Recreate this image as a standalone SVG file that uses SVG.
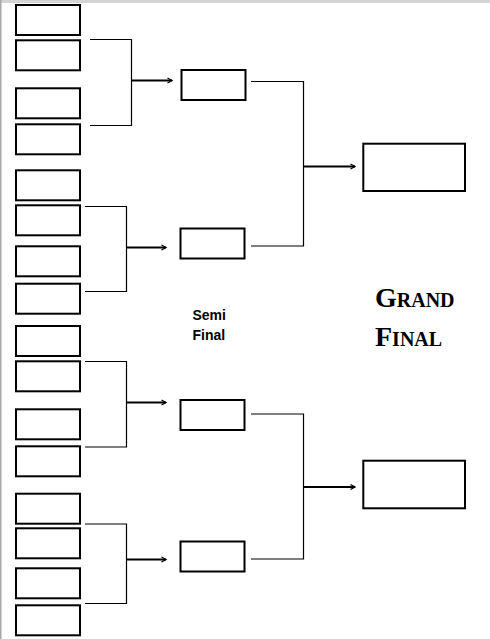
<svg xmlns="http://www.w3.org/2000/svg" width="490" height="639" viewBox="0 0 490 639">
<defs>
<marker id="ah" markerUnits="userSpaceOnUse" markerWidth="8" markerHeight="8" refX="6" refY="4" orient="auto">
<path d="M1.5,1.5 L6,4 L1.5,6.5" fill="none" stroke="#000" stroke-width="1.3"/>
</marker>
<style>
.box{fill:#fff;stroke:#000;stroke-width:2}
.br{fill:none;stroke:#000;stroke-width:1.2}
.ar{fill:none;stroke:#000;stroke-width:1.8;marker-end:url(#ah)}
.semi{font-family:"Liberation Sans",Arial,sans-serif;font-weight:bold;font-size:14px;fill:#000}
.gf{font-family:"Liberation Serif","Times New Roman",serif;font-weight:bold;fill:#000}
</style>
</defs>
<rect x="0" y="0" width="490" height="639" fill="#fff"/>
<rect x="0" y="0" width="490" height="3" fill="#d4d4d4"/>
<rect x="0" y="0" width="1.5" height="639" fill="#a8a8a8"/>

<g id="r1">
<rect id="n1" class="box" x="16" y="5" width="64" height="30"/>
<rect id="n2" class="box" x="16" y="40.3" width="64" height="30"/>
<rect id="n3" class="box" x="16" y="88.3" width="64" height="30"/>
<rect id="n4" class="box" x="16" y="124.3" width="64" height="30"/>
<rect id="n5" class="box" x="16" y="170.3" width="64" height="30"/>
<rect id="n6" class="box" x="16" y="205.3" width="64" height="30"/>
<rect id="n7" class="box" x="16" y="246.3" width="64" height="30"/>
<rect id="n8" class="box" x="16" y="283.7" width="64" height="30"/>
<rect id="n9" class="box" x="16" y="326" width="64" height="30"/>
<rect id="n10" class="box" x="16" y="361.3" width="64" height="30"/>
<rect id="n11" class="box" x="16" y="409.3" width="64" height="30"/>
<rect id="n12" class="box" x="16" y="446.3" width="64" height="30"/>
<rect id="n13" class="box" x="16" y="493.7" width="64" height="30"/>
<rect id="n14" class="box" x="16" y="528.3" width="64" height="30"/>
<rect id="n15" class="box" x="16" y="568.3" width="64" height="30"/>
<rect id="n16" class="box" x="16" y="605.3" width="64" height="30"/>
</g>

<g id="semis">
<rect id="s1" class="box" x="181.5" y="70" width="64" height="30"/>
<rect id="s2" class="box" x="180.5" y="228.5" width="64" height="30"/>
<rect id="s3" class="box" x="180.5" y="400" width="64" height="30"/>
<rect id="s4" class="box" x="180.5" y="541.5" width="64" height="30"/>
</g>

<g id="finals">
<rect id="f1" class="box" x="363.3" y="143.7" width="101.7" height="47.3"/>
<rect id="f2" class="box" x="363.3" y="460.7" width="101.7" height="47.6"/>
</g>

<g id="connectors">
<path class="br" d="M90 39.5 H131.5 V125.5 H90"/>
<path class="ar" d="M131.5 80.5 H172"/>
<path class="br" d="M85 206.5 H126.5 V291.5 H85"/>
<path class="ar" d="M126.5 247.5 H166"/>
<path class="br" d="M85 361.5 H126.5 V447 H85"/>
<path class="ar" d="M126.5 402.5 H166"/>
<path class="br" d="M85 524 H126.5 V603.5 H85"/>
<path class="ar" d="M126.5 559.5 H166"/>
<path class="br" d="M251 81.5 H303.5 V246 H251"/>
<path class="ar" d="M303.5 166.5 H355"/>
<path class="br" d="M251 414 H303.5 V559 H251"/>
<path class="ar" d="M303.5 487 H355"/>
</g>

<g id="labels">
<text class="semi" x="192.5" y="319.5">Semi</text>
<text class="semi" x="192.5" y="340">Final</text>
<text class="gf" x="375" y="307.3"><tspan font-size="28">G</tspan><tspan font-size="20">RAND</tspan></text>
<text class="gf" x="375" y="346"><tspan font-size="28">F</tspan><tspan font-size="20">INAL</tspan></text>
</g>
</svg>
